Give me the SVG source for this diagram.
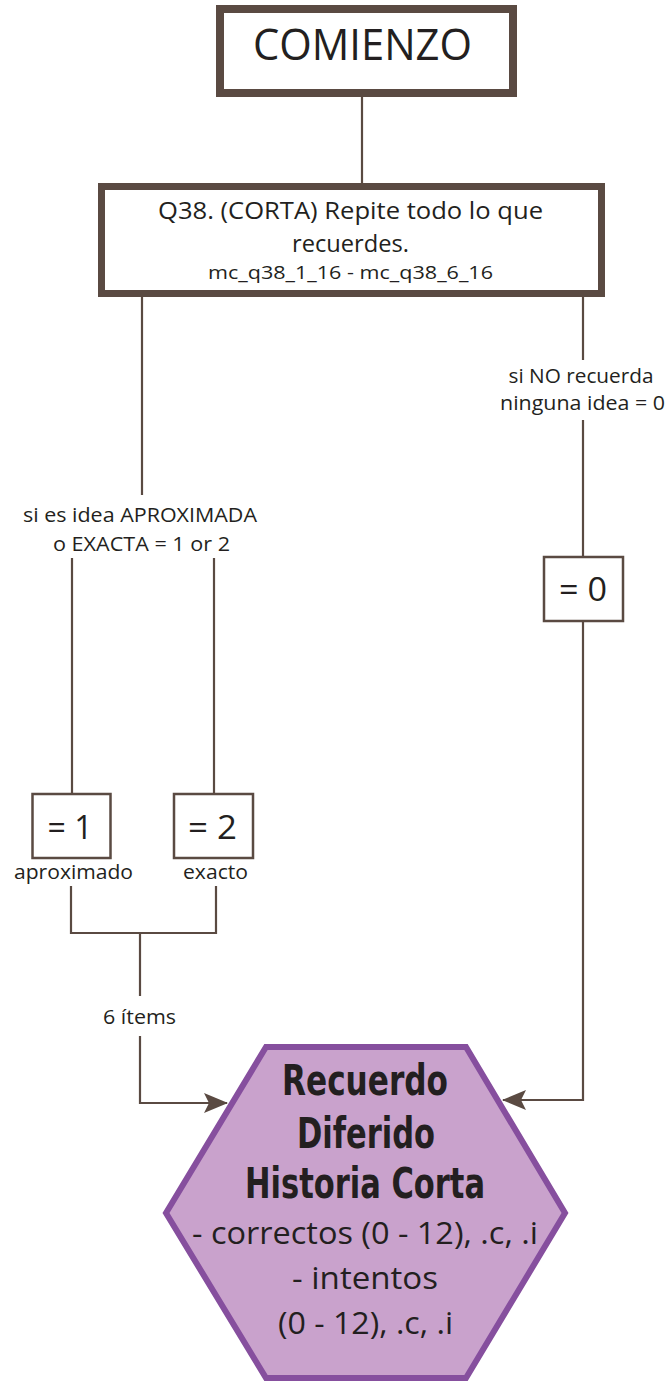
<svg xmlns="http://www.w3.org/2000/svg" width="669" height="1381" viewBox="0 0 669 1381">
<style>
.t{font-family:"Open Sans","Noto Sans","Liberation Sans",sans-serif;fill:#231f20;text-anchor:middle}
.h{font-family:"Liberation Sans Narrow","DejaVu Sans Condensed","Liberation Sans",sans-serif;font-weight:bold;fill:#231f20;text-anchor:middle}
.ln{fill:none;stroke:#5a4a42;stroke-width:2.2}
.bx{fill:#fff;stroke:#5a4a42;stroke-width:2.5}
</style>
<defs>
<marker id="ah" viewBox="0 0 24 20" markerWidth="24" markerHeight="20" refX="23" refY="10" orient="auto" markerUnits="userSpaceOnUse">
<path d="M0,0 L24,10 L0,20 L5,10 Z" fill="#5a4a42"/>
</marker>
</defs>
<rect width="669" height="1381" fill="#fff"/>
<g id="connectors">
<line class="ln" x1="362" y1="97" x2="362" y2="183"/>
<line class="ln" x1="142" y1="297" x2="142" y2="495"/>
<line class="ln" x1="583" y1="297" x2="583" y2="360"/>
<line class="ln" x1="583" y1="420" x2="583" y2="556"/>
<line class="ln" x1="72" y1="558" x2="72" y2="793"/>
<line class="ln" x1="214" y1="558" x2="214" y2="793"/>
<polyline class="ln" points="71,886 71,933 216,933 216,886"/>
<line class="ln" x1="140" y1="933" x2="140" y2="996"/>
<polyline class="ln" points="140,1036 140,1103 227,1103" marker-end="url(#ah)"/>
<polyline class="ln" points="583,621 583,1100 503,1100" marker-end="url(#ah)"/>
</g>
<g id="comienzo">
<rect x="220" y="9" width="293" height="84" fill="#fff" stroke="#5a4a42" stroke-width="8"/>
<text class="t" x="362.5" y="60" font-size="44" textLength="219" lengthAdjust="spacingAndGlyphs">COMIENZO</text>
</g>
<g id="q38">
<rect x="101.5" y="186.5" width="500" height="107" fill="#fff" stroke="#5a4a42" stroke-width="7"/>
<text class="t" x="350.5" y="219" font-size="24" textLength="385" lengthAdjust="spacingAndGlyphs">Q38. (CORTA) Repite todo lo que</text>
<text class="t" x="350.5" y="252" font-size="24" textLength="117" lengthAdjust="spacingAndGlyphs">recuerdes.</text>
<text class="t" x="350.5" y="279" font-size="18" textLength="285" lengthAdjust="spacingAndGlyphs">mc_q38_1_16 - mc_q38_6_16</text>
</g>
<g id="label-no">
<text class="t" x="581" y="383" font-size="19.5" textLength="145" lengthAdjust="spacingAndGlyphs">si NO recuerda</text>
<text class="t" x="582.5" y="410" font-size="19.5" textLength="165" lengthAdjust="spacingAndGlyphs">ninguna idea = 0</text>
</g>
<g id="label-si">
<text class="t" x="140" y="522" font-size="19.5" textLength="234" lengthAdjust="spacingAndGlyphs">si es idea APROXIMADA</text>
<text class="t" x="141.5" y="551" font-size="19.5" textLength="177" lengthAdjust="spacingAndGlyphs">o EXACTA = 1 or 2</text>
</g>
<g id="box0">
<rect class="bx" x="544" y="557" width="79" height="64"/>
<text class="t" x="583" y="601" font-size="33" textLength="48" lengthAdjust="spacingAndGlyphs">= 0</text>
</g>
<g id="box1">
<rect class="bx" x="32.5" y="794" width="78" height="64"/>
<text class="t" x="70" y="839" font-size="33" textLength="45" lengthAdjust="spacingAndGlyphs">= 1</text>
<text class="t" x="73.5" y="879" font-size="20" textLength="119" lengthAdjust="spacingAndGlyphs">aproximado</text>
</g>
<g id="box2">
<rect class="bx" x="174" y="794" width="79" height="64"/>
<text class="t" x="212.5" y="839" font-size="33" textLength="49" lengthAdjust="spacingAndGlyphs">= 2</text>
<text class="t" x="215.5" y="879" font-size="20" textLength="65" lengthAdjust="spacingAndGlyphs">exacto</text>
</g>
<g id="label-items">
<text class="t" x="139.5" y="1024" font-size="20" textLength="73" lengthAdjust="spacingAndGlyphs">6 ítems</text>
</g>
<g id="result">
<polygon points="266,1047 466,1047 565,1213 466,1378 266,1378 166,1213" fill="#c9a2cc" stroke="#864f9e" stroke-width="6"/>
<text class="h" x="365" y="1095" font-size="43" textLength="166" lengthAdjust="spacingAndGlyphs">Recuerdo</text>
<text class="h" x="366" y="1148" font-size="43" textLength="138" lengthAdjust="spacingAndGlyphs">Diferido</text>
<text class="h" x="365" y="1198" font-size="43" textLength="240" lengthAdjust="spacingAndGlyphs">Historia Corta</text>
<text class="t" x="365" y="1244" font-size="31" textLength="346" lengthAdjust="spacingAndGlyphs">- correctos (0 - 12), .c, .i</text>
<text class="t" x="365" y="1289" font-size="31" textLength="146" lengthAdjust="spacingAndGlyphs">- intentos</text>
<text class="t" x="365.5" y="1334" font-size="31" textLength="175" lengthAdjust="spacingAndGlyphs">(0 - 12), .c, .i</text>
</g>
</svg>
